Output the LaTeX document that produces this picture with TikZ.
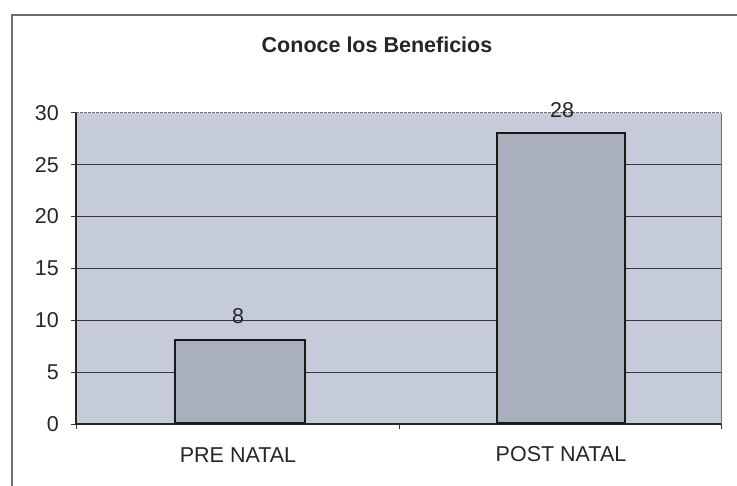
\documentclass[tikz,border=0pt]{standalone}
\usepackage{fontspec}
\setmainfont{Liberation Sans}
\definecolor{plotbg}{RGB}{198,203,218}
\definecolor{barfill}{RGB}{170,175,190}
\definecolor{gridc}{RGB}{50,50,55}
\definecolor{framec}{RGB}{110,110,110}
\tikzset{
  lbl/.style={inner sep=0pt, font=\fontsize{21.5}{21.5}\selectfont, text=black!85},
  ttl/.style={inner sep=0pt, font=\bfseries\fontsize{21.5}{21.5}\selectfont, text=black!85},
  barbox/.style={draw=black!90, line width=1.8pt, fill=barfill},
  gridline/.style={draw=gridc, line width=1pt},
}
\begin{document}
\begin{tikzpicture}[x=1pt,y=-1pt]
\useasboundingbox (0,0) rectangle (737,486);
\fill[white] (0,0) rectangle (737,486);
% outer frame
\draw[framec, line width=1.2pt] (12,486) -- (12,15) -- (737,15);
% title
\node[ttl] (title) at (377,45) {Conoce los Beneficios};
% plot area
\fill[plotbg] (76,113) rectangle (721,424);
\draw[framec, line width=1pt, dash pattern=on 3pt off 1pt] (76,113) -- (721,113);
\draw[framec, line width=1pt] (721,113) -- (721,424);
% gridlines and y labels
\foreach \v in {5,10,...,25} {
  \draw[gridline] (76,{424-\v*10.37}) -- (721,{424-\v*10.37});
}
\foreach \v in {0,5,...,30} {
  \draw[gridc, line width=0.9pt] (71,{424-\v*10.37}) -- (76,{424-\v*10.37});
  \node[lbl, anchor=east] (y\v) at (59,{424-\v*10.37}) {\v};
}
% axes
\draw[black!85, line width=1.4pt] (76,113) -- (76,424) -- (721,424);
\draw[gridc, line width=0.9pt] (76,424) -- (76,429) (399,424) -- (399,429) (721,424) -- (721,429);
% bars
\node[barbox, minimum width=130pt, minimum height={8*10.37pt}, anchor=south, inner sep=0pt] (pre) at (240,424) {};
\node[barbox, minimum width=128pt, minimum height={28*10.37pt}, anchor=south, inner sep=0pt] (post) at (561,424) {};
% value labels
\node[lbl] (vpre) at (238,316) {8};
\node[lbl] (vpost) at (562,110) {28};
% category labels
\node[lbl] (cpre) at (238,455) {PRE NATAL};
\node[lbl] (cpost) at (561,454) {POST NATAL};
\end{tikzpicture}
\end{document}
